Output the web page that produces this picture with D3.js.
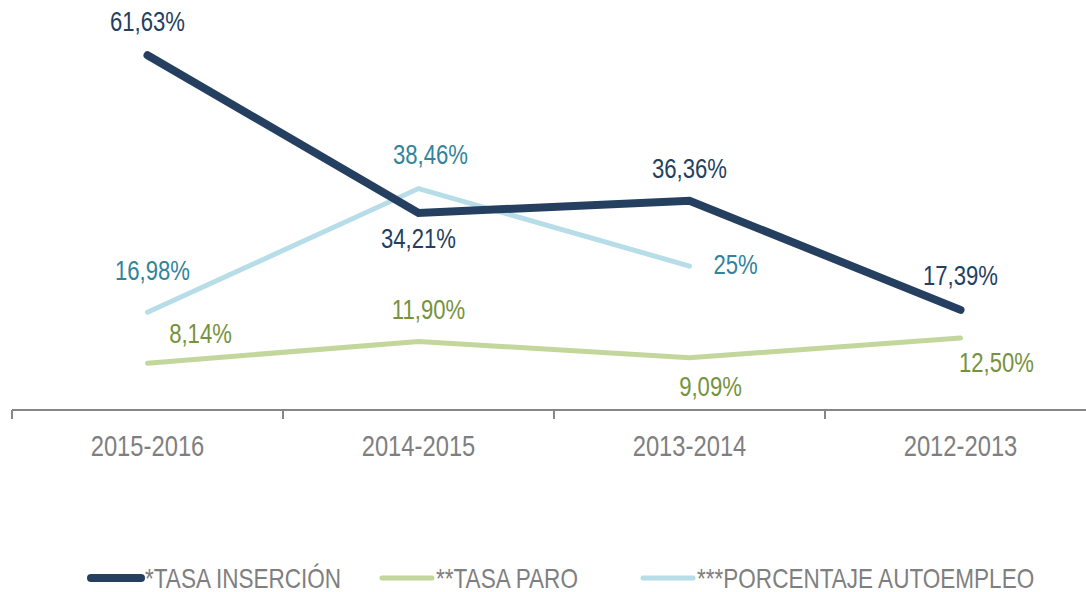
<!DOCTYPE html>
<html>
<head>
<meta charset="utf-8">
<script src="https://cdn.jsdelivr.net/npm/d3@7"></script>
<style>
  body { margin: 0; background: #fff; }
  text { font-family: "Liberation Sans", Arial, sans-serif; }
</style>
</head>
<body>
<script>
// data
var years = ['2015-2016', '2014-2015', '2013-2014', '2012-2013']
var insercion = [61.63, 34.21, 36.36, 17.39]
var paro = [8.14, 11.90, 9.09, 12.50]
var autoempleo = [16.98, 38.46, 25, null]
var seriesNames = ['*TASA INSERCIÓN', '**TASA PARO', '***PORCENTAJE AUTOEMPLEO']

// label placement: dx, dy from the point, anchor
var insercionLabels = [[0, -24, 'middle'], [0, 35, 'middle'], [0, -23, 'middle'], [0, -25, 'middle']]
var paroLabels = [[53, -20, 'middle'], [10, -22, 'middle'], [21, 38, 'middle'], [36, 34, 'middle']]
var autoempleoLabels = [[5, -32, 'middle'], [12, -25, 'middle'], [24, 8, 'start'], null]

var width = 1086, height = 592
var narrow = 0.82 // no narrow font installed, squeeze Liberation Sans instead

var svg = d3.select('body').append('svg')
    .attr('width', width).attr('height', height)

var x = d3.scaleBand().domain(years).range([12, 1096])
var y = d3.scaleLinear().domain([0, 70]).range([410, 7])

var fmt = function(v) {
  var s = (Math.round(v) === v) ? String(v) : v.toFixed(2).replace('.', ',')
  return s + '%'
}
var place = function(px, py) {
  return 'translate(' + px + ',' + py + ') scale(' + narrow + ',1)'
}

// axis
var axis = svg.append('g').attr('transform', 'translate(0,410)')
axis.append('line').attr('x1', 12).attr('x2', width).attr('y1', 0).attr('y2', 0)
    .attr('stroke', '#868686').attr('stroke-width', 2)
axis.selectAll('.tick').data(years).enter().append('line')
    .attr('x1', function(d) { return x(d) }).attr('x2', function(d) { return x(d) })
    .attr('y1', 0).attr('y2', 9)
    .attr('stroke', '#868686').attr('stroke-width', 2)
axis.selectAll('.lbl').data(years).enter().append('text')
    .attr('transform', function(d) { return place(x(d) + x.bandwidth() / 2, 46) })
    .attr('text-anchor', 'middle')
    .attr('font-size', 29)
    .attr('fill', '#7f7f7f')
    .text(function(d) { return d })

var series = [
  {values: paro, color: '#c3d69b', label: '#76923c', width: 5, place: paroLabels},
  {values: autoempleo, color: '#b7dde8', label: '#31849b', width: 5, place: autoempleoLabels},
  {values: insercion, color: '#243f60', label: '#243f60', width: 8, place: insercionLabels}
]

var line = d3.line()
    .defined(function(d) { return d.v != null })
    .x(function(d) { return x(d.k) + x.bandwidth() / 2 })
    .y(function(d) { return y(d.v) })

series.forEach(function(s) {
  var pts = years.map(function(k, i) { return {k: k, v: s.values[i], p: s.place[i]} })
  svg.append('path').datum(pts)
      .attr('d', line)
      .attr('fill', 'none')
      .attr('stroke', s.color)
      .attr('stroke-width', s.width)
      .attr('stroke-linecap', 'round')
      .attr('stroke-linejoin', 'miter')
})

series.forEach(function(s) {
  var pts = years.map(function(k, i) { return {k: k, v: s.values[i], p: s.place[i]} })
      .filter(function(d) { return d.v != null })
  svg.selectAll(null).data(pts).enter().append('text')
      .attr('transform', function(d) {
        return place(x(d.k) + x.bandwidth() / 2 + d.p[0], y(d.v) + d.p[1])
      })
      .attr('text-anchor', function(d) { return d.p[2] })
      .attr('font-size', 27)
      .attr('fill', s.label)
      .text(function(d) { return fmt(d.v) })
})

// legend
var legendX = [88, 379, 640]
var legendColors = ['#243f60', '#c3d69b', '#b7dde8']
var legendWidths = [8, 5, 5]
var legend = svg.append('g').attr('transform', 'translate(0,578)')
seriesNames.forEach(function(name, i) {
  legend.append('line')
      .attr('x1', legendX[i] + 3).attr('x2', legendX[i] + 53)
      .attr('y1', 0).attr('y2', 0)
      .attr('stroke', legendColors[i])
      .attr('stroke-width', legendWidths[i])
      .attr('stroke-linecap', 'round')
  legend.append('text')
      .attr('transform', place(legendX[i] + 57, 10))
      .attr('font-size', 27.5)
      .attr('fill', '#7f7f7f')
      .text(name)
})
</script>
</body>
</html>
